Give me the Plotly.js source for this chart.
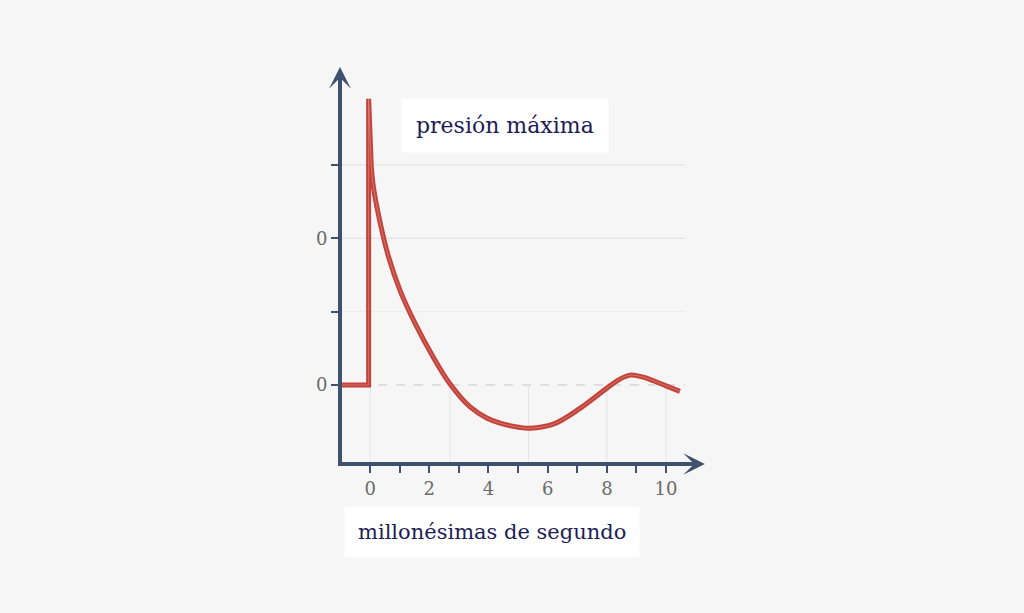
<!DOCTYPE html>
<html>
<head>
<meta charset="utf-8">
<script src="https://cdn.plot.ly/plotly-3.0.1.min.js"></script>
<style>html,body{margin:0;padding:0;background:#f6f6f6;}</style>
</head>
<body>
<div id="chart" style="width:1024px;height:613px;"></div>
<script>
// Pulse pressure curve (time in millionths of a second, arbitrary pressure units)
const stepX = [-0.95, -0.05, -0.05, 0.04];
const stepY = [0, 0, 3.9, 2.97];
const curveX = [0.04, 0.11, 0.34, 0.62, 1.01, 1.52, 2.14, 2.69, 3.38, 3.94, 4.39, 5.07, 5.40, 6.19, 7.09, 7.60, 8.00, 8.40, 8.78, 9.20, 9.57, 10.00, 10.47];
const curveY = [2.97, 2.70, 2.21, 1.75, 1.29, 0.84, 0.375, 0.02, -0.30, -0.45, -0.52, -0.58, -0.59, -0.535, -0.32, -0.167, -0.043, 0.07, 0.134, 0.11, 0.057, -0.012, -0.087];
const xTickVals = [0, 2, 4, 6, 8, 10];
const xTickText = ['0', '2', '4', '6', '8', '10'];
const yTickVals = [0, 1, 2, 3];
const yTickText = ['0', '', '0', ''];
const gridY = [1, 2, 3];
const gridYColors = ['#ececec', '#dedede', '#dedede'];
const guideX = [0, 2.7, 5.35, 8, 10];
const titleTop = 'presión máxima';
const titleBottom = 'millonésimas de segundo';

const xRange = [-0.95, 10.64];
const yRange = [-1.05, 4.02];
const axisColor = '#3e5270';
const red = '#c2433b';

const traces = [
  {x: stepX, y: stepY, mode: 'lines', line: {color: red, width: 5, shape: 'linear'}, hoverinfo: 'skip', showlegend: false},
  {x: curveX, y: curveY, mode: 'lines', line: {color: red, width: 5, shape: 'spline', smoothing: 1}, hoverinfo: 'skip', showlegend: false},
  {x: stepX, y: stepY, mode: 'lines', line: {color: 'rgba(238,160,150,0.5)', width: 1, shape: 'linear'}, hoverinfo: 'skip', showlegend: false},
  {x: curveX, y: curveY, mode: 'lines', line: {color: 'rgba(238,160,150,0.5)', width: 1, shape: 'spline', smoothing: 1}, hoverinfo: 'skip', showlegend: false}
];

const shapes = [];
gridY.forEach((v, i) => shapes.push({type: 'line', xref: 'paper', yref: 'y', x0: 0, x1: 1, y0: v, y1: v, layer: 'below', line: {color: gridYColors[i], width: 1}}));
shapes.push({type: 'line', xref: 'paper', yref: 'y', x0: 0, x1: 1, y0: 0, y1: 0, layer: 'below', line: {color: '#c9c9c9', width: 1, dash: 'dash'}});
guideX.forEach(v => shapes.push({type: 'line', xref: 'x', yref: 'y', x0: v, x1: v, y0: 0, y1: yRange[0], layer: 'below', line: {color: '#e4e4e4', width: 1}}));

const tickFont = {family: 'DejaVu Serif, serif', size: 18, color: '#6a6a6a'};
const titleFontTop = {family: 'DejaVu Serif, serif', size: 22, color: '#1e1d55'};
const titleFontBottom = {family: 'DejaVu Serif, serif', size: 21, color: '#1e1d55'};

const layout = {
  width: 1024, height: 613,
  margin: {l: 342, r: 339, t: 90, b: 151},
  paper_bgcolor: '#f6f6f6', plot_bgcolor: '#f6f6f6',
  showlegend: false,
  xaxis: {
    range: xRange, showgrid: false, zeroline: false,
    showline: true, linecolor: axisColor, linewidth: 4,
    tickmode: 'array', tickvals: xTickVals, ticktext: xTickText,
    ticks: 'outside', ticklen: 7, tickwidth: 2, tickcolor: axisColor,
    minor: {dtick: 1, tick0: 0, ticks: 'outside', ticklen: 7, tickwidth: 2, tickcolor: axisColor, showgrid: false},
    tickfont: tickFont, fixedrange: true
  },
  yaxis: {
    range: yRange, showgrid: false, zeroline: false,
    showline: true, linecolor: axisColor, linewidth: 4,
    tickmode: 'array', tickvals: yTickVals, ticktext: yTickText,
    ticks: 'outside', ticklen: 7, tickwidth: 2, tickcolor: axisColor,
    tickfont: tickFont, fixedrange: true
  },
  shapes: shapes,
  annotations: [
    {xref: 'paper', yref: 'paper', x: 1.058, y: 0, ax: -30, ay: 0, axref: 'pixel', ayref: 'pixel', showarrow: true, arrowhead: 3, arrowsize: 0.9, arrowwidth: 4, arrowcolor: axisColor, text: '', yshift: -2},
    {xref: 'paper', yref: 'paper', x: 0, y: 1.062, ax: 0, ay: 30, axref: 'pixel', ayref: 'pixel', showarrow: true, arrowhead: 3, arrowsize: 0.9, arrowwidth: 4, arrowcolor: axisColor, text: '', xshift: -2},
    {xref: 'paper', yref: 'paper', x: 0.475, y: 0.905, showarrow: false, text: titleTop, font: titleFontTop, bgcolor: '#ffffff', borderpad: 14, xanchor: 'center', yanchor: 'middle'},
    {xref: 'paper', yref: 'paper', x: 0.436, y: -0.188, showarrow: false, text: titleBottom, font: titleFontBottom, bgcolor: '#ffffff', borderpad: 13, xanchor: 'center', yanchor: 'middle'}
  ]
};

Plotly.newPlot('chart', traces, layout, {displayModeBar: false, staticPlot: true});
</script>
</body>
</html>
